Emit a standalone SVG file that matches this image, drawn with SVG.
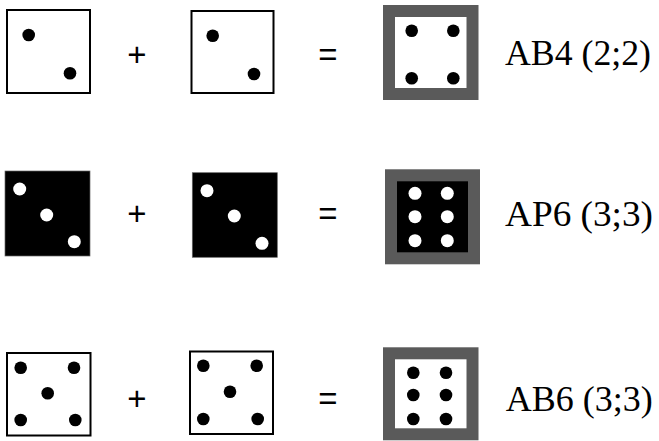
<svg xmlns="http://www.w3.org/2000/svg" width="659" height="441" viewBox="0 0 659 441">
<style>
.die{fill:#fff;stroke:#000;stroke-width:2}
.bdie{fill:#000;stroke:#666;stroke-width:0.7}
.frame{fill:#fff;stroke:#5a5a5a;stroke-width:12}
.bframe{fill:#000;stroke:#5a5a5a;stroke-width:12}
.pip{fill:#000}
.wpip{fill:#fff}
.op{font-family:"Liberation Sans",Arial,sans-serif;font-size:33px;fill:#000;text-anchor:middle}
.lbl{font-family:"Liberation Serif","Times New Roman",serif;font-size:35px;fill:#000}
</style>
<rect width="659" height="441" fill="#fff"/>
<g id="row1-die1">
<rect class="die" x="7" y="10" width="83" height="83"/>
<circle class="pip" cx="28.7" cy="35" r="6.3"/>
<circle class="pip" cx="70" cy="73.3" r="6.3"/>
</g>
<g id="row1-plus"><text class="op" x="137" y="66">+</text></g>
<g id="row1-die2">
<rect class="die" x="191.5" y="11" width="82" height="82"/>
<circle class="pip" cx="212.7" cy="35.7" r="6.3"/>
<circle class="pip" cx="254" cy="74" r="6.3"/>
</g>
<g id="row1-eq"><text class="op" x="328" y="66">=</text></g>
<g id="row1-result">
<rect class="frame" x="389" y="11" width="83.5" height="83"/>
<circle class="pip" cx="411.7" cy="30.7" r="6.3"/>
<circle class="pip" cx="453.3" cy="30.7" r="6.3"/>
<circle class="pip" cx="411.7" cy="78.3" r="6.3"/>
<circle class="pip" cx="453.3" cy="78.3" r="6.3"/>
</g>
<g id="row1-label"><text class="lbl" x="505" y="65" textLength="146" lengthAdjust="spacingAndGlyphs">AB4 (2;2)</text></g>

<g id="row2-die1">
<rect class="bdie" x="5" y="171" width="85" height="85"/>
<circle class="wpip" cx="19.7" cy="189" r="6.5"/>
<circle class="wpip" cx="46.7" cy="215" r="6.5"/>
<circle class="wpip" cx="74.3" cy="241.7" r="6.5"/>
</g>
<g id="row2-plus"><text class="op" x="137" y="225">+</text></g>
<g id="row2-die2">
<rect class="bdie" x="192.3" y="172.7" width="85" height="84.6"/>
<circle class="wpip" cx="207" cy="190.7" r="6.5"/>
<circle class="wpip" cx="234.3" cy="216" r="6.5"/>
<circle class="wpip" cx="262" cy="243.3" r="6.5"/>
</g>
<g id="row2-eq"><text class="op" x="328" y="225">=</text></g>
<g id="row2-result">
<rect class="bframe" x="391" y="175.3" width="83" height="83"/>
<circle class="wpip" cx="415" cy="193.3" r="6.5"/>
<circle class="wpip" cx="447.3" cy="193.3" r="6.5"/>
<circle class="wpip" cx="415" cy="216.7" r="6.5"/>
<circle class="wpip" cx="447.3" cy="216.7" r="6.5"/>
<circle class="wpip" cx="415" cy="240.7" r="6.5"/>
<circle class="wpip" cx="447.3" cy="240.7" r="6.5"/>
</g>
<g id="row2-label"><text class="lbl" x="505" y="226" textLength="148" lengthAdjust="spacingAndGlyphs">AP6 (3;3)</text></g>

<g id="row3-die1">
<rect class="die" x="7" y="353" width="83.5" height="82.5"/>
<circle class="pip" cx="20.7" cy="367.7" r="6.3"/>
<circle class="pip" cx="74" cy="367.7" r="6.3"/>
<circle class="pip" cx="47.7" cy="393.3" r="6.3"/>
<circle class="pip" cx="20.7" cy="420" r="6.3"/>
<circle class="pip" cx="75.3" cy="420" r="6.3"/>
</g>
<g id="row3-plus"><text class="op" x="137" y="410">+</text></g>
<g id="row3-die2">
<rect class="die" x="190" y="351.5" width="83" height="82.5"/>
<circle class="pip" cx="203.3" cy="365.7" r="6.3"/>
<circle class="pip" cx="256.7" cy="365.7" r="6.3"/>
<circle class="pip" cx="230" cy="391.7" r="6.3"/>
<circle class="pip" cx="203.3" cy="419" r="6.3"/>
<circle class="pip" cx="257.7" cy="419" r="6.3"/>
</g>
<g id="row3-eq"><text class="op" x="328" y="410">=</text></g>
<g id="row3-result">
<rect class="frame" x="389" y="353.3" width="83.5" height="81"/>
<circle class="pip" cx="413.3" cy="372.7" r="6.3"/>
<circle class="pip" cx="446" cy="372.7" r="6.3"/>
<circle class="pip" cx="413.3" cy="395" r="6.3"/>
<circle class="pip" cx="446" cy="395" r="6.3"/>
<circle class="pip" cx="413.3" cy="419" r="6.3"/>
<circle class="pip" cx="446" cy="419" r="6.3"/>
</g>
<g id="row3-label"><text class="lbl" x="505.7" y="411" textLength="147" lengthAdjust="spacingAndGlyphs">AB6 (3;3)</text></g>
</svg>
